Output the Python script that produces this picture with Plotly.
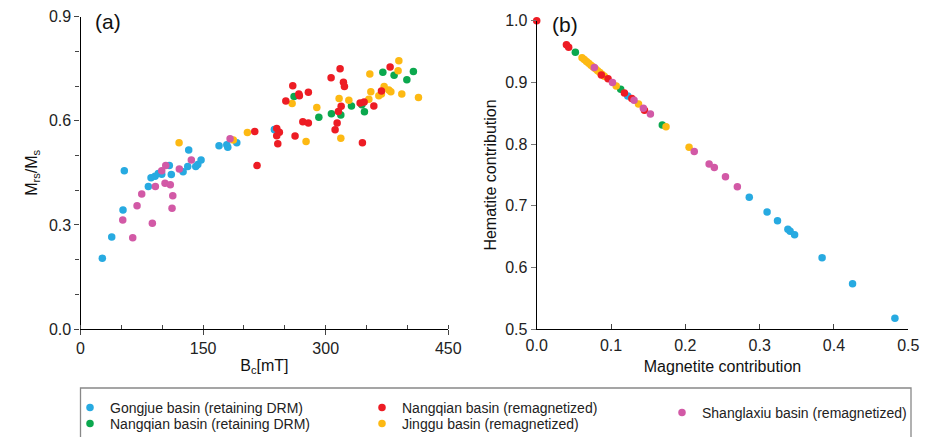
import plotly.graph_objects as go

# ---------------- Panel (a): Mrs/Ms vs Bc ----------------
gongjue_bc = [26.7, 38.2, 52.0, 53.6, 83.0, 86.3, 91.2, 95.2, 99.4, 108.7, 111.1, 125.5,
              131.2, 141.0, 143.5, 147.5, 132.4, 169.5, 179.0, 180.2, 191.2, 237.2, 237.7]
gongjue_m = [0.204, 0.265, 0.343, 0.456, 0.411, 0.436, 0.440, 0.448, 0.446, 0.471, 0.445, 0.453,
             0.468, 0.468, 0.474, 0.487, 0.516, 0.528, 0.531, 0.524, 0.537, 0.575, 0.574]

nq_drm_bc = [261.3, 369.9, 383.7, 407.3, 399.3, 331.5, 344.2, 347.4, 307.0, 318.5, 291.6]
nq_drm_m = [0.670, 0.740, 0.731, 0.742, 0.718, 0.643, 0.646, 0.626, 0.620, 0.617, 0.610]

nq_rem_bc = [317.6, 306.6, 321.7, 322.9, 259.7, 278.8, 267.1, 267.8, 251.2, 378.8, 368.2, 342.1,
             347.0, 358.9, 318.9, 315.5, 272.0, 278.8, 314.0, 311.5, 213.2, 240.1, 243.3, 240.1,
             262.5, 241.4, 344.9, 216.0]
nq_rem_m = [0.750, 0.724, 0.711, 0.699, 0.701, 0.682, 0.677, 0.672, 0.657, 0.755, 0.686, 0.651,
            0.654, 0.643, 0.642, 0.627, 0.597, 0.594, 0.594, 0.574, 0.569, 0.578, 0.567, 0.557,
            0.556, 0.534, 0.537, 0.471]

jinggu_bc = [389.5, 388.6, 354.0, 371.5, 377.2, 379.7, 368.2, 365.0, 355.2, 393.1, 413.5, 352.8,
             316.4, 328.3, 258.9, 289.1, 204.2, 276.0, 318.5, 120.6, 187.0]
jinggu_m = [0.773, 0.744, 0.735, 0.699, 0.689, 0.684, 0.677, 0.672, 0.684, 0.677, 0.667, 0.662,
            0.664, 0.659, 0.650, 0.638, 0.566, 0.540, 0.550, 0.537, 0.545]

shang_bc = [51.7, 63.9, 69.2, 74.9, 87.9, 91.6, 99.4, 104.3, 103.4, 109.9, 112.9, 112.0, 120.9,
            135.6, 183.0]
shang_m = [0.314, 0.263, 0.355, 0.389, 0.305, 0.411, 0.456, 0.471, 0.420, 0.416, 0.384, 0.348,
           0.461, 0.487, 0.548]

# ---------------- Panel (b): Hematite vs Magnetite contribution ----------------
gongjue_mag = [0.1225, 0.286, 0.310, 0.324, 0.338, 0.341, 0.347, 0.384, 0.425, 0.482]
gongjue_hem = [0.878, 0.714, 0.690, 0.676, 0.662, 0.659, 0.653, 0.616, 0.574, 0.518]

nq_drm_mag = [0.052, 0.113, 0.169]
nq_drm_hem = [0.949, 0.889, 0.831]

nq_rem_mag = [0.0, 0.040, 0.043, 0.087, 0.096, 0.118, 0.128, 0.145]
nq_rem_hem = [1.0, 0.961, 0.957, 0.912, 0.906, 0.883, 0.874, 0.855]

jinggu_mag = [0.061, 0.064, 0.067, 0.070, 0.073, 0.076, 0.079, 0.082, 0.085, 0.088, 0.091,
              0.107, 0.137, 0.174, 0.205]
jinggu_hem = [0.940, 0.937, 0.934, 0.931, 0.928, 0.925, 0.922, 0.919, 0.916, 0.913, 0.910,
              0.894, 0.865, 0.828, 0.795]

shang_mag = [0.0775, 0.102, 0.131, 0.1435, 0.153, 0.212, 0.232, 0.239, 0.254, 0.270]
shang_hem = [0.924, 0.900, 0.871, 0.858, 0.849, 0.788, 0.768, 0.762, 0.747, 0.731]

names = ["Gongjue basin (retaining DRM)", "Nangqian basin (retaining DRM)",
         "Jinggu basin (remagnetized)", "Nangqian basin (remagnetized)",
         "Shanglaxiu basin (remagnetized)"]
colors = ["#27AAE1", "#0BA84E", "#FDB913", "#ED1C24", "#D259A6"]
legend_ids = ["legend", "legend2", "legend3", "legend4", "legend5"]

data_a = [(gongjue_bc, gongjue_m), (nq_drm_bc, nq_drm_m), (jinggu_bc, jinggu_m),
          (nq_rem_bc, nq_rem_m), (shang_bc, shang_m)]
data_b = [(gongjue_mag, gongjue_hem), (nq_drm_mag, nq_drm_hem), (jinggu_mag, jinggu_hem),
          (nq_rem_mag, nq_rem_hem), (shang_mag, shang_hem)]

FONT = "Liberation Sans, Arial, sans-serif"
W, H = 929, 437


def px_x(p):
    return p / W


def px_y(p):
    return (H - p) / H


fig = go.Figure()
for i in range(5):
    fig.add_trace(go.Scatter(
        x=data_a[i][0], y=data_a[i][1], mode="markers", name=names[i],
        marker=dict(color=colors[i], size=7.5, line=dict(width=0)),
        legend=legend_ids[i], cliponaxis=False, xaxis="x", yaxis="y"))
for i in range(5):
    fig.add_trace(go.Scatter(
        x=data_b[i][0], y=data_b[i][1], mode="markers", name=names[i],
        marker=dict(color=colors[i], size=7.5, line=dict(width=0)),
        showlegend=False, cliponaxis=False, xaxis="x2", yaxis="y2"))

axis_common = dict(showline=True, linecolor="black", linewidth=1.2, showgrid=False,
                   zeroline=False, ticks="outside", ticklen=5, tickcolor="#444",
                   automargin=False,
                   tickfont=dict(size=16, color="#222", family=FONT),
                   title_font=dict(size=16, color="#111", family=FONT))

# legend item positions (text left x, row centre y) in pixels
leg_pos = {"legend": (70, 408), "legend2": (70, 424), "legend3": (362, 424),
           "legend4": (362, 408), "legend5": (662, 413)}
legends = {}
for lid, (lx, ly) in leg_pos.items():
    legends[lid] = dict(x=px_x(lx), y=px_y(ly), xanchor="left", yanchor="middle",
                        bgcolor="rgba(0,0,0,0)",
                        font=dict(size=14, family=FONT, color="#222"))

fig.update_layout(
    template="none",
    width=W, height=H, margin=dict(l=0, r=0, t=0, b=0, autoexpand=False),
    paper_bgcolor="white", plot_bgcolor="white",
    font=dict(family=FONT, color="#111"),
    xaxis=dict(axis_common, domain=[px_x(80.5), px_x(448.3)], range=[0, 450], dtick=150,
               tick0=0, anchor="y", ticklabelstandoff=0,
               minor=dict(dtick=50, ticks="inside", ticklen=4, tickcolor="#444"),
               title=dict(text="B<sub>c</sub>[mT]", standoff=3)),
    yaxis=dict(axis_common, domain=[px_y(329), px_y(16.7)], range=[0, 0.9], dtick=0.3,
               tick0=0, tickformat=".1f", anchor="x",
               minor=dict(dtick=0.1, ticks="outside", ticklen=4, tickcolor="#444"),
               title=dict(text="M<sub>rs</sub>/M<sub>s</sub>", standoff=7)),
    xaxis2=dict(axis_common, domain=[px_x(536.7), px_x(908.3)], range=[0, 0.5], dtick=0.1,
                tick0=0, tickformat=".1f", anchor="y2", ticks="inside", ticklabelstandoff=1,
                title=dict(text="Magnetite contribution", standoff=8)),
    yaxis2=dict(axis_common, domain=[px_y(329.3), px_y(20.7)], range=[0.5, 1.0], dtick=0.1,
                tick0=0.5, tickformat=".1f", anchor="x2", tickcolor="#777",
                title=dict(text="Hematite contribution", standoff=4)),
    shapes=[dict(type="rect", xref="paper", yref="paper",
                 x0=px_x(80.5), x1=px_x(911), y0=px_y(445), y1=px_y(388),
                 line=dict(color="#888", width=1.3), fillcolor="rgba(0,0,0,0)", layer="below")],
    annotations=[
        dict(text="(a)", x=px_x(93), y=px_y(22), xref="paper", yref="paper",
             xanchor="left", yanchor="middle", showarrow=False,
             font=dict(size=21, family=FONT, color="#111")),
        dict(text="(b)", x=px_x(550), y=px_y(24), xref="paper", yref="paper",
             xanchor="left", yanchor="middle", showarrow=False,
             font=dict(size=21, family=FONT, color="#111")),
    ],
    **legends,
)

fig.write_html("out.html")
